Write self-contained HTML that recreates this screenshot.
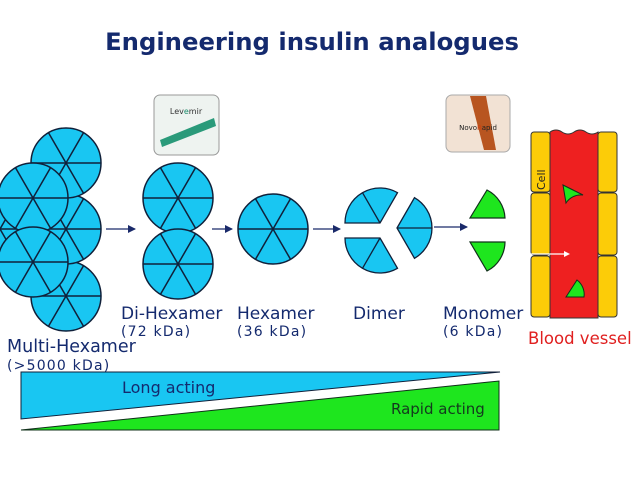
<!DOCTYPE html>
<html><head><meta charset="utf-8"><style>
body{margin:0;background:#fff;width:638px;height:479px;overflow:hidden;font-family:"DejaVu Sans","Liberation Sans",sans-serif}
svg{position:absolute;left:0;top:0;font-family:"DejaVu Sans","Liberation Sans",sans-serif}
</style></head><body>
<svg width="638" height="479" viewBox="0 0 638 479" xmlns="http://www.w3.org/2000/svg">
<defs>
<g id="hex">
<circle r="35" fill="#19c6f2" stroke="#10203a" stroke-width="1.5"/>
<line x1="-35" y1="0" x2="35" y2="0" stroke="#10203a" stroke-width="1.5"/>
<line x1="-17.5" y1="-30.3" x2="17.5" y2="30.3" stroke="#10203a" stroke-width="1.5"/>
<line x1="17.5" y1="-30.3" x2="-17.5" y2="30.3" stroke="#10203a" stroke-width="1.5"/>
</g>
<marker id="ar" markerWidth="8" markerHeight="8" refX="7" refY="4" orient="auto" markerUnits="userSpaceOnUse"><path d="M0,0 L8,4 L0,8 z" fill="#1a2a6a"/></marker>
</defs>
<text x="312" y="50" text-anchor="middle" font-size="24.3" font-weight="bold" fill="#142a6e">Engineering insulin analogues</text>

<use href="#hex" x="66" y="296"/>
<use href="#hex" x="0" y="229"/>
<use href="#hex" x="66" y="229"/>
<use href="#hex" x="66" y="163"/>
<use href="#hex" x="33" y="198"/>
<use href="#hex" x="33" y="262"/>
<use href="#hex" x="178" y="198"/>
<use href="#hex" x="178" y="264"/>
<use href="#hex" x="273" y="229"/>

<g stroke="#1a2a6a" stroke-width="1.3" marker-end="url(#ar)">
<line x1="106" y1="229" x2="135" y2="229"/>
<line x1="212" y1="229" x2="232" y2="229"/>
<line x1="313" y1="229" x2="340" y2="229"/>
<line x1="434" y1="227" x2="467" y2="227"/>
</g>

<g fill="#19c6f2" stroke="#10203a" stroke-width="1.3">
<g transform="translate(380,223)"><path d="M0,0 L-35,0 A35,35 0 0 1 17.5,-30.3 Z"/><line x1="0" y1="0" x2="-17.5" y2="-30.3"/></g>
<g transform="translate(380,238)"><path d="M0,0 L-35,0 A35,35 0 0 0 17.5,30.3 Z"/><line x1="0" y1="0" x2="-17.5" y2="30.3"/></g>
<g transform="translate(397,228)"><path d="M0,0 L17.5,-30.3 A35,35 0 0 1 17.5,30.3 Z"/><line x1="0" y1="0" x2="35" y2="0"/></g>
</g>
<g fill="#1ee61e" stroke="#10301a" stroke-width="1.2">
<path d="M487,190 L470,218 L505,218 A33,33 0 0 0 487,190 Z"/>
<path d="M470,242 L505,242 A33,33 0 0 1 487,271 Z"/>
</g>

<rect x="154" y="95" width="65" height="60" rx="6" fill="#eef3f0" stroke="#999"/>
<text x="186" y="114" text-anchor="middle" font-size="8" fill="#333">Lev<tspan fill="#1a8a6a">e</tspan>mir</text>
<path d="M160,140 L214,118 L216,126 L162,147 Z" fill="#2a9a7a"/>
<rect x="446" y="95" width="64" height="57" rx="6" fill="#f2e2d4" stroke="#aaa"/>
<path d="M470,96 L486,96 L496,150 L484,150 Z" fill="#b85520"/>
<text x="478" y="130" text-anchor="middle" font-size="7" fill="#222">Novo<tspan fill="#d04010">R</tspan>apid</text>

<path d="M550,132 Q556,128 562,132 T574,132 T586,132 T598,132 L598,318 L550,318 Z" fill="#ee2020" stroke="#333" stroke-width="1"/>
<g fill="#fccc08" stroke="#333" stroke-width="1">
<rect x="531" y="132" width="19" height="60" rx="3"/>
<rect x="531" y="193" width="19" height="62" rx="3"/>
<rect x="531" y="256" width="19" height="61" rx="3"/>
<rect x="598" y="132" width="19" height="60" rx="3"/>
<rect x="598" y="193" width="19" height="62" rx="3"/>
<rect x="598" y="256" width="19" height="61" rx="3"/>
</g>
<text transform="translate(545,190) rotate(-90)" font-size="11" fill="#222">Cell</text>
<g fill="#1ee61e" stroke="#10301a" stroke-width="1">
<path d="M563,185 L583,195 A18,18 0 0 0 566,203 Z"/>
<path d="M566,297 L584,297 A18,18 0 0 0 577,280 Z"/>
</g>
<line x1="510" y1="254" x2="565" y2="254" stroke="#fff" stroke-width="1.2"/>
<path d="M564,251 L570,254 L564,257 Z" fill="#fff"/>

<g font-size="17" fill="#142a6e">
<text x="121" y="319">Di-Hexamer</text>
<text x="237" y="319">Hexamer</text>
<text x="353" y="319">Dimer</text>
<text x="443" y="319">Monomer</text>
<text x="7" y="352" font-size="17.5">Multi-Hexamer</text>
</g>
<g font-size="14" fill="#142a6e" letter-spacing="1.2">
<text x="121" y="336">(72 kDa)</text>
<text x="237" y="336">(36 kDa)</text>
<text x="443" y="336">(6 kDa)</text>
<text x="7" y="370">(&gt;5000 kDa)</text>
</g>
<text x="528" y="344" font-size="16.5" fill="#e02020">Blood vessel</text>

<path d="M21,372 L500,372 L21,419 Z" fill="#19c6f2" stroke="#10203a" stroke-width="1"/>
<path d="M499,381 L499,430 L21,430 Z" fill="#1ee61e" stroke="#10301a" stroke-width="1"/>
<text x="122" y="393" font-size="16" fill="#142a6e">Long acting</text>
<text x="391" y="414" font-size="15" fill="#143a1e">Rapid acting</text>
</svg>
</body></html>
